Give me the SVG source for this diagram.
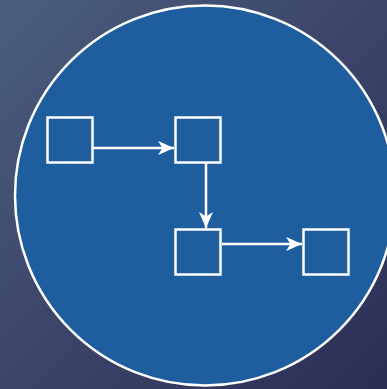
<svg xmlns="http://www.w3.org/2000/svg" width="387" height="389" viewBox="0 0 387 389">
<defs>
<linearGradient id="bg" x1="0" y1="0" x2="1" y2="1">
<stop offset="0" stop-color="#4b5d7d"/>
<stop offset="1" stop-color="#2c2d55"/>
</linearGradient>
<marker id="ah" markerWidth="17" markerHeight="14" refX="16" refY="7" orient="auto" markerUnits="userSpaceOnUse">
<path d="M0,0 L16,7 L0,14 L4.5,7 Z" fill="#ffffff"/>
</marker>
<style>
.box{fill:none;stroke:#ffffff;stroke-width:2.5}
.link{fill:none;stroke:#ffffff;stroke-width:2.5}
</style>
</defs>
<rect width="387" height="389" fill="url(#bg)"/>
<circle cx="205" cy="195.5" r="190" fill="#1f5e9e" stroke="#ffffff" stroke-width="2.5"/>
<g id="connectors">
<line class="link" x1="93" y1="148" x2="174" y2="148" marker-end="url(#ah)"/>
<line class="link" x1="206" y1="162" x2="206" y2="228" marker-end="url(#ah)"/>
<line class="link" x1="222" y1="244" x2="302" y2="244" marker-end="url(#ah)"/>
</g>
<g id="n1"><rect class="box" x="47.5" y="117.5" width="45" height="45"/></g>
<g id="n2"><rect class="box" x="175.5" y="117.5" width="45" height="45"/></g>
<g id="n3"><rect class="box" x="175.5" y="229.5" width="45" height="45"/></g>
<g id="n4"><rect class="box" x="303.5" y="229.5" width="45" height="45"/></g>
</svg>
